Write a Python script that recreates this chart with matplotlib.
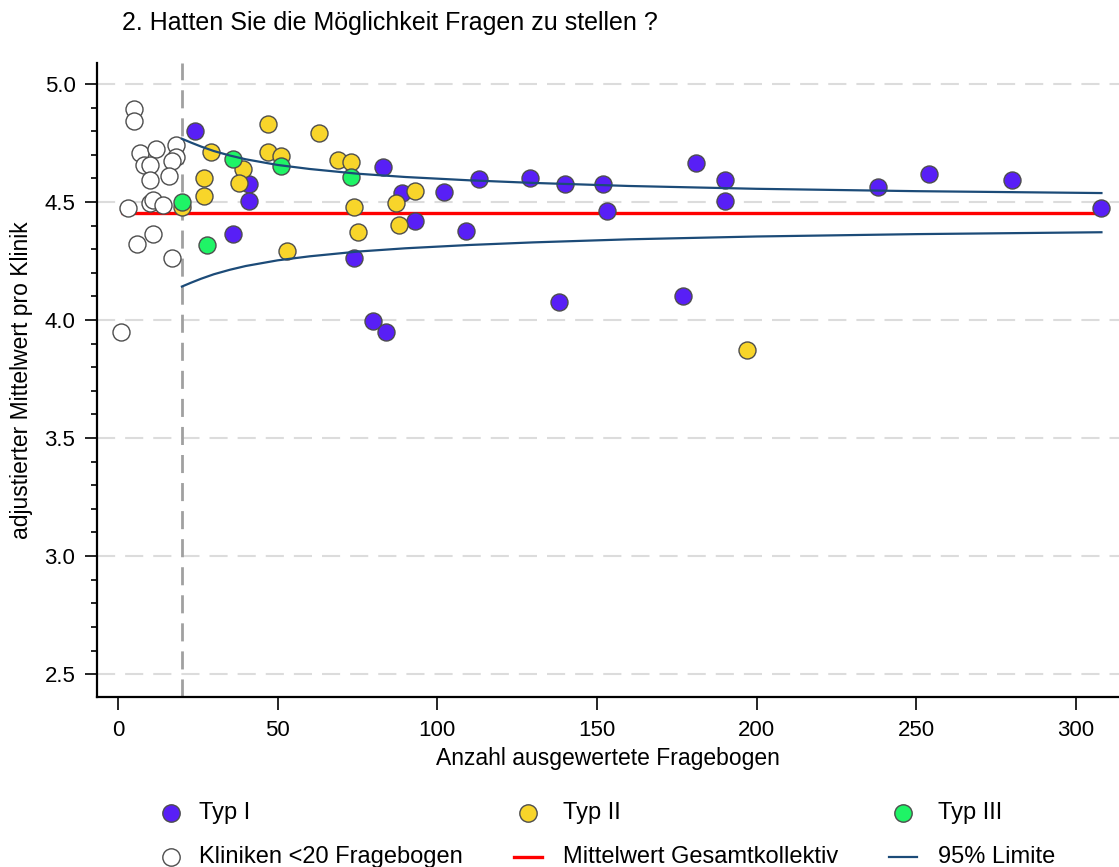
import numpy as np
import matplotlib.pyplot as plt
from matplotlib.lines import Line2D
from matplotlib.ticker import MultipleLocator

plt.rcParams['font.family'] = ['Liberation Sans', 'DejaVu Sans']

# Kliniken mit weniger als 20 Fragebogen
small_n = [5, 5, 7, 12, 18, 18, 17, 8, 10, 10, 16, 3, 10, 11, 14, 11, 6, 17, 1]
small_mean = [4.894, 4.843, 4.709, 4.723, 4.742, 4.689, 4.674, 4.657, 4.657, 4.593,
              4.609, 4.473, 4.494, 4.508, 4.486, 4.364, 4.322, 4.261, 3.948]

# Typ I
typ1_n = [24, 41, 41, 36, 83, 89, 93, 74, 80, 84, 102, 113, 129, 140, 152, 153,
          109, 138, 181, 190, 190, 177, 238, 254, 280, 308]
typ1_mean = [4.802, 4.576, 4.504, 4.364, 4.647, 4.537, 4.420, 4.264, 3.994, 3.950,
             4.544, 4.599, 4.600, 4.575, 4.575, 4.463, 4.376, 4.078, 4.667, 4.592,
             4.503, 4.103, 4.562, 4.617, 4.593, 4.476]

# Typ II
typ2_n = [20, 29, 27, 27, 39, 38, 47, 47, 51, 63, 69, 73, 74, 75, 53, 87, 93, 88, 197]
typ2_mean = [4.478, 4.711, 4.602, 4.527, 4.640, 4.579, 4.831, 4.714, 4.695, 4.791,
             4.678, 4.668, 4.480, 4.372, 4.294, 4.494, 4.548, 4.404, 3.874]

# Typ III
typ3_n = [20, 36, 51, 73, 28]
typ3_mean = [4.499, 4.682, 4.654, 4.607, 4.318]

# Mittelwert Gesamtkollektiv und 95% Limiten
overall_mean = 4.455
limit_n = [20, 23, 26, 30, 35, 40, 50, 60, 75, 90, 110, 130, 160, 200, 250, 308]
limit_upper = [4.768, 4.751, 4.735, 4.716, 4.697, 4.681, 4.657, 4.640, 4.620, 4.606,
               4.592, 4.581, 4.568, 4.556, 4.546, 4.538]
limit_lower = [4.142, 4.159, 4.175, 4.194, 4.213, 4.229, 4.253, 4.270, 4.290, 4.304,
               4.318, 4.329, 4.342, 4.354, 4.364, 4.372]

min_n_cutoff = 20

c_typ1 = '#581ff6'
c_typ2 = '#f8d52a'
c_typ3 = '#1ff466'
c_mean = '#ff0000'
c_limit = '#1c4b78'
edge = '#4d4d4d'
msize = 150

W, H = 1119, 867
fig = plt.figure(figsize=(W / 100, H / 100), dpi=100)
ax = fig.add_axes([97 / W, 1 - 697 / H, 1022 / W, 634 / H])

ax.set_xlim(-6.6, 313.5)
ax.set_ylim(2.403, 5.089)

ax.grid(axis='y', color='#dcdcdc', linewidth=1.5, linestyle=(0, (8.7, 4.8)))
ax.set_axisbelow(True)
ax.axvline(min_n_cutoff, color='#a0a0a0', lw=2, ls=(0, (6.5, 3.6)), zorder=1)

all_n = small_n + typ1_n + typ2_n + typ3_n
ax.plot([min(all_n), max(all_n)], [overall_mean, overall_mean],
        color=c_mean, lw=2.4, zorder=2, solid_capstyle='butt')

ax.scatter(small_n, small_mean, s=msize, facecolor='white', edgecolor=edge, lw=1.0, zorder=3)
ax.scatter(typ1_n, typ1_mean, s=msize, facecolor=c_typ1, edgecolor=edge, lw=1.0, zorder=3)
ax.scatter(typ2_n, typ2_mean, s=msize, facecolor=c_typ2, edgecolor=edge, lw=1.0, zorder=3)
ax.scatter(typ3_n, typ3_mean, s=msize, facecolor=c_typ3, edgecolor=edge, lw=1.0, zorder=3)

ax.plot(limit_n, limit_upper, color=c_limit, lw=1.6, zorder=4)
ax.plot(limit_n, limit_lower, color=c_limit, lw=1.6, zorder=4)

for side in ['top', 'right']:
    ax.spines[side].set_visible(False)
for side in ['left', 'bottom']:
    ax.spines[side].set_linewidth(1.6)

ax.set_xticks(range(0, 301, 50))
ax.set_yticks(np.arange(2.5, 5.01, 0.5))
ax.set_yticklabels(['%.1f' % v for v in np.arange(2.5, 5.01, 0.5)])
ax.yaxis.set_minor_locator(MultipleLocator(0.1))
ax.tick_params(axis='x', length=9, width=1.2, pad=7.5, labelsize=16)
ax.tick_params(axis='y', which='major', length=9, width=1.2, pad=6.5, labelsize=16)
ax.tick_params(axis='y', which='minor', length=4.5, width=1.2)

ax.set_xlabel('Anzahl ausgewertete Fragebogen', fontsize=16.5, va='center')
ax.xaxis.set_label_coords(0.5, (697 - 758) / 634)
ax.set_ylabel('adjustierter Mittelwert pro Klinik', fontsize=16.5, va='center')
ax.yaxis.set_label_coords((22 - 97) / 1022, 0.5)

fig.text(122 / W, 1 - 23 / H, '2. Hatten Sie die Möglichkeit Fragen zu stellen ?',
         fontsize=18, ha='left', va='center')

# Legende: drei Spalten, zwei Zeilen
col_x = [171, 528, 903]
text_x = [199, 563, 938]
row_y = [813, 857]
entries = [
    (0, 0, 'marker', c_typ1, 'Typ I'),
    (0, 1, 'marker', c_typ2, 'Typ II'),
    (0, 2, 'marker', c_typ3, 'Typ III'),
    (1, 0, 'marker', 'white', 'Kliniken <20 Fragebogen'),
    (1, 1, 'line', c_mean, 'Mittelwert Gesamtkollektiv'),
    (1, 2, 'line', c_limit, '95% Limite'),
]
for row, col, kind, color, label in entries:
    x = col_x[col] / W
    y = 1 - row_y[row] / H
    if kind == 'marker':
        h = Line2D([x], [y], marker='o', markersize=12.5, markerfacecolor=color,
                   markeredgecolor=edge, markeredgewidth=1.0, linestyle='none',
                   transform=fig.transFigure)
    else:
        lw = 2.4 if color == c_mean else 1.6
        h = Line2D([x - 14 / W, x + 14 / W], [y, y], color=color, lw=lw,
                   transform=fig.transFigure)
    fig.add_artist(h)
    fig.text(text_x[col] / W, y, label, fontsize=17, ha='left', va='center')

fig.savefig('out.png', dpi=100)
